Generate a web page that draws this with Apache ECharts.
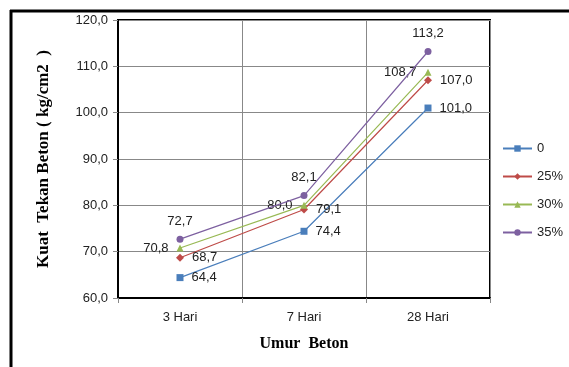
<!DOCTYPE html>
<html>
<head>
<meta charset="utf-8">
<script src="https://cdn.jsdelivr.net/npm/echarts@6/dist/echarts.min.js"></script>
<style>
  html, body { margin: 0; padding: 0; background: #fff; }
  #chart { width: 569px; height: 367px; }
</style>
</head>
<body>
<div id="chart"></div>
<script>
// umur beton (hari)
const categories = ['3 Hari', '7 Hari', '28 Hari'];
const seriesNames = ['0', '25%', '30%', '35%'];
const val0 = [64.4, 74.4, 101.0];
const val25 = [68.7, 79.1, 107.0];
const val30 = [70.8, 80.0, 108.7];
const val35 = [72.7, 82.1, 113.2];

const colors = ['#4a7ebb', '#be4b48', '#98b954', '#7d60a0'];
const symbols = ['rect', 'diamond', 'triangle', 'circle'];
const labelPos = ['right', 'right', 'left', 'top'];

const fmt = v => v.toFixed(1).replace('.', ',');

const chart = echarts.init(document.getElementById('chart'));

const makeSeries = (name, data, i) => ({
  name: name,
  type: 'line',
  data: data,
  symbol: symbols[i],
  symbolSize: i === 1 ? 8 : 7,
  lineStyle: { width: 1.2, color: colors[i] },
  itemStyle: { color: colors[i] },
  label: {
    show: true,
    position: labelPos[i],
    distance: 8,
    formatter: p => fmt(p.value),
    color: '#222',
    fontSize: 13,
    fontFamily: 'Liberation Sans'
  },
  z: 3 + i
});

const option = {
  animation: false,
  grid: {
    left: 118, right: 79, top: 20, bottom: 69,
    show: true, borderColor: '#000', borderWidth: 2
  },
  legend: {
    orient: 'vertical',
    left: 502, top: 142,
    padding: 0,
    itemWidth: 29, itemHeight: 8,
    itemGap: 15,
    textStyle: { fontSize: 13, color: '#222', fontFamily: 'Liberation Sans' },
    data: seriesNames
  },
  xAxis: {
    type: 'category',
    data: categories,
    name: 'Umur  Beton',
    nameLocation: 'middle',
    nameGap: 38,
    nameTextStyle: { fontFamily: 'Liberation Serif', fontWeight: 'bold', fontSize: 16, color: '#000' },
    axisLine: { lineStyle: { color: '#000', width: 2 } },
    axisTick: { show: true, length: 5, lineStyle: { color: '#888' } },
    axisLabel: { fontSize: 13, color: '#222', margin: 13, fontFamily: 'Liberation Sans' },
    splitLine: { show: true, lineStyle: { color: '#888', width: 1 } }
  },
  yAxis: {
    type: 'value',
    min: 60, max: 120, interval: 10,
    name: 'Kuat  Tekan Beton ( kg/cm2  )',
    nameLocation: 'middle',
    nameGap: 66,
    nameTextStyle: { fontFamily: 'Liberation Serif', fontWeight: 'bold', fontSize: 17, color: '#000' },
    axisLine: { show: true, lineStyle: { color: '#000', width: 2 } },
    axisTick: { show: true, length: 5, lineStyle: { color: '#888' } },
    axisLabel: { formatter: v => fmt(v), fontSize: 13, color: '#222', margin: 10, fontFamily: 'Liberation Sans' },
    splitLine: { lineStyle: { color: '#888', width: 1 } }
  },
  graphic: [
    { type: 'line', shape: { x1: 10, y1: 11, x2: 569, y2: 11 }, style: { stroke: '#000', lineWidth: 3 } },
    { type: 'line', shape: { x1: 11, y1: 10, x2: 11, y2: 367 }, style: { stroke: '#000', lineWidth: 3 } }
  ],
  series: [
    makeSeries(seriesNames[0], val0, 0),
    makeSeries(seriesNames[1], val25, 1),
    makeSeries(seriesNames[2], val30, 2),
    makeSeries(seriesNames[3], val35, 3)
  ]
};

chart.setOption(option);
</script>
</body>
</html>
